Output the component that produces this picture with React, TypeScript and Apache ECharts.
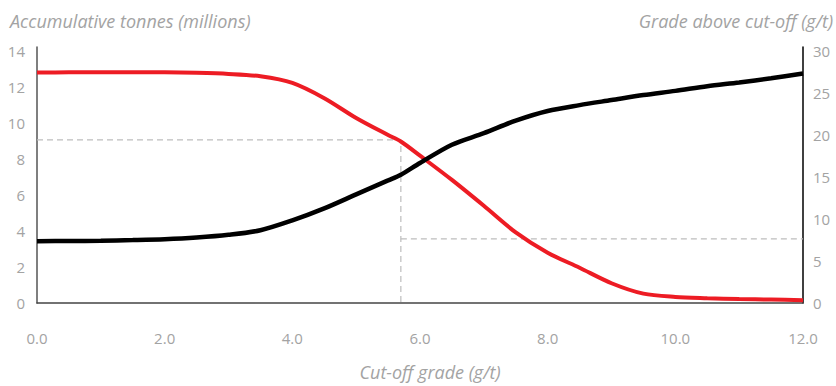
import React, { useEffect, useRef } from "react";
import * as echarts from "echarts";

// Cut-off grade (g/t)
const cutoff = [0, 0.5, 1, 1.5, 2, 2.5, 3, 3.5, 4, 4.5, 5, 5.5, 5.7, 6, 6.5, 7, 7.5, 8, 8.5, 9, 9.5, 10, 10.5, 11, 11.5, 12];
// Accumulative tonnes (millions) – left axis
const tonnes = [12.83, 12.84, 12.85, 12.85, 12.84, 12.81, 12.75, 12.62, 12.25, 11.4, 10.3, 9.35, 8.99, 8.2, 6.85, 5.41, 3.93, 2.8, 1.96, 1.1, 0.52, 0.34, 0.27, 0.22, 0.19, 0.16];
// Grade above cut-off (g/t) – right axis
const grade = [7.37, 7.39, 7.43, 7.5, 7.6, 7.8, 8.13, 8.68, 9.85, 11.28, 12.95, 14.62, 15.3, 16.7, 18.88, 20.25, 21.75, 22.9, 23.6, 24.2, 24.8, 25.3, 25.85, 26.3, 26.8, 27.37];

// Reference markers
const refCutoff = 5.7;
const refTonnes = 9.08;
const refGrade = 7.64;
const xMax = 12;

const leftTitle = "Accumulative tonnes (millions)";
const rightTitle = "Grade above cut-off (g/t)";
const xTitle = "Cut-off grade (g/t)";

export default function App() {
  const ref = useRef<HTMLDivElement>(null);
  useEffect(() => {
    if (!ref.current) return;
    const chart = echarts.init(ref.current, null, { renderer: "svg" });
    const font = "'Open Sans', 'DejaVu Sans', sans-serif";
    const labelColor = "#a3a3a3";
    const dash = { color: "#bdbdbd", width: 1.2, type: [6, 4] as any };
    chart.setOption({
      animation: false,
      textStyle: { fontFamily: font },
      grid: { left: 37, right: 33, top: 47, bottom: 78 },
      graphic: [
        {
          type: "text",
          left: 10,
          top: 12,
          style: { text: leftTitle, fontSize: 18, fontStyle: "italic", fill: labelColor, fontFamily: font },
        },
        {
          type: "text",
          right: 3,
          top: 12,
          style: { text: rightTitle, fontSize: 18, fontStyle: "italic", fill: labelColor, fontFamily: font },
        },
      ],
      xAxis: {
        type: "value",
        min: 0,
        max: xMax,
        interval: 2,
        name: xTitle,
        nameLocation: "middle",
        nameGap: 60,
        nameTextStyle: { fontSize: 18, fontStyle: "italic", color: labelColor, padding: [0, 0, 0, 20] },
        axisLine: { lineStyle: { color: "#444", width: 1.5 } },
        axisTick: { show: false },
        splitLine: { show: false },
        axisLabel: { color: labelColor, fontSize: 15, margin: 27, formatter: (v: number) => v.toFixed(1) },
      },
      yAxis: [
        {
          type: "value",
          min: 0,
          max: 14.25,
          interval: 2,
          axisLine: { show: true, lineStyle: { color: "#555", width: 1.5 } },
          axisTick: { show: false },
          splitLine: { show: false },
          axisLabel: { color: labelColor, fontSize: 15, margin: 12, showMaxLabel: false },
        },
        {
          type: "value",
          min: 0,
          max: 30.53,
          interval: 5,
          position: "right",
          axisLine: { show: true, lineStyle: { color: "#000", width: 1.5 } },
          axisTick: { show: false },
          splitLine: { show: false },
          axisLabel: { color: labelColor, fontSize: 15, margin: 10, showMaxLabel: false },
        },
      ],
      series: [
        {
          type: "line",
          yAxisIndex: 0,
          data: [[0, refTonnes], [refCutoff, refTonnes], [refCutoff, 0]],
          showSymbol: false,
          lineStyle: dash,
          silent: true,
        },
        {
          type: "line",
          yAxisIndex: 1,
          data: [[refCutoff, refGrade], [xMax, refGrade]],
          showSymbol: false,
          lineStyle: dash,
          silent: true,
        },
        {
          type: "line",
          name: "Tonnes",
          yAxisIndex: 0,
          data: cutoff.map((c, i) => [c, tonnes[i]]),
          showSymbol: false,
          smooth: 0.3,
          lineStyle: { color: "#ed1c24", width: 4 },
        },
        {
          type: "line",
          name: "Grade",
          yAxisIndex: 1,
          data: cutoff.map((c, i) => [c, grade[i]]),
          showSymbol: false,
          smooth: 0.3,
          lineStyle: { color: "#000", width: 4.5 },
        },
      ],
    });
    return () => chart.dispose();
  }, []);
  return <div ref={ref} style={{ position: "fixed", left: 0, top: 0, width: 836, height: 386, background: "#fff" }} />;
}
